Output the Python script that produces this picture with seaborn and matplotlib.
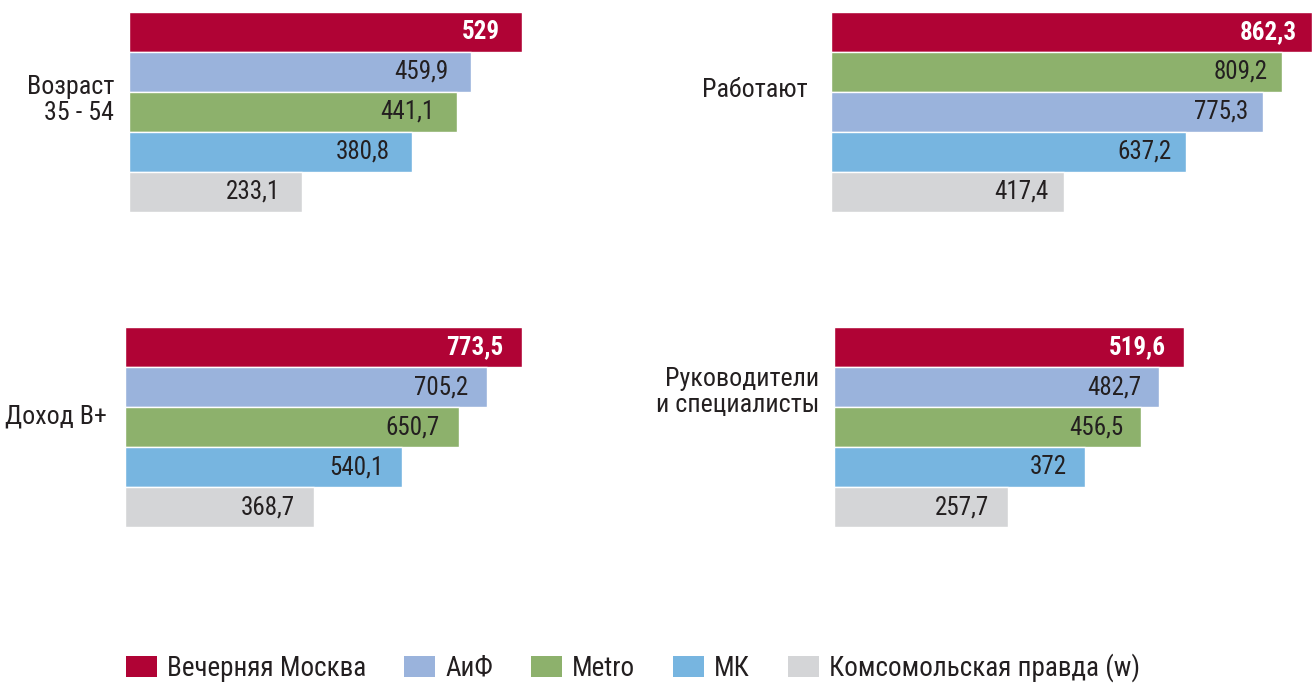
import matplotlib
matplotlib.use("Agg")
import matplotlib.pyplot as plt
from matplotlib import font_manager as fm
from matplotlib.patches import Patch
import seaborn as sns
import pandas as pd

# ---- data ----
series = ["Вечерняя Москва", "АиФ", "Metro", "МК", "Комсомольская правда (w)"]
colors = ["#B00335", "#9AB3DC", "#8DB16C", "#77B5E0", "#D4D5D7"]

panel_titles = ["Возраст\n35 - 54", "Работают", "Доход В+", "Руководители\nи специалисты"]

age_order = ["Вечерняя Москва", "АиФ", "Metro", "МК", "Комсомольская правда (w)"]
age_values = [529, 459.9, 441.1, 380.8, 233.1]

work_order = ["Вечерняя Москва", "Metro", "АиФ", "МК", "Комсомольская правда (w)"]
work_values = [862.3, 809.2, 775.3, 637.2, 417.4]

income_order = ["Вечерняя Москва", "АиФ", "Metro", "МК", "Комсомольская правда (w)"]
income_values = [773.5, 705.2, 650.7, 540.1, 368.7]

mgr_order = ["Вечерняя Москва", "АиФ", "Metro", "МК", "Комсомольская правда (w)"]
mgr_values = [519.6, 482.7, 456.5, 372, 257.7]

# ---- style ----
sns.set_theme(style="white")

# pick a narrow / condensed family if one is installed
names = {f.name for f in fm.fontManager.ttflist}
fam = None
for cand in ["Liberation Sans Narrow", "DejaVu Sans Condensed", "Roboto Condensed",
             "Open Sans Condensed", "Noto Sans Display", "Roboto", "Liberation Sans"]:
    if cand in names:
        fam = cand
        break
stretch = "normal"
if fam in ("Roboto", "Liberation Sans", None):
    cond = [f for f in fm.fontManager.ttflist
            if f.stretch in ("condensed", "semi-condensed") and f.name in
            ("DejaVu Sans", "Noto Sans", "Open Sans", "Roboto", "Liberation Sans")]
    if cond:
        fam = cond[0].name
        stretch = cond[0].stretch
if fam is None:
    fam = "DejaVu Sans"
plt.rcParams["font.family"] = [fam, "DejaVu Sans"]
plt.rcParams["font.stretch"] = stretch

W, H = 1312, 685
fig = plt.figure(figsize=(W / 100, H / 100), dpi=100)
fig.patch.set_facecolor("white")
renderer = fig.canvas.get_renderer()


def fit_size(s, target_px, max_pt, weight="normal"):
    t = fig.text(0, 0, s, fontsize=10, fontweight=weight, fontstretch=stretch)
    w = t.get_window_extent(renderer=renderer).width
    t.remove()
    return min(max_pt, 10 * target_px / w)


val_size = fit_size("459,9", 55, 18)
cat_size = fit_size("Работают", 106, 19.5)
leg_size = fit_size("Вечерняя Москва", 212, 19.5)

palette = dict(zip(series, colors))

# panel boxes in pixels: left, top, right, bottom
boxes = [(129, 12, 522, 212), (831, 12, 1312, 212),
         (125, 327, 522, 527), (834, 327, 1184, 527)]
label_pos = [(114, 100), (808, 90), (107, 417), (819, 392)]
offsets_px = [22, 15, 19, 18]

panels = [(age_order, age_values), (work_order, work_values),
          (income_order, income_values), (mgr_order, mgr_values)]

TXT = "#231F20"
for (order, vals), box, title, lp, off in zip(panels, boxes, panel_titles, label_pos, offsets_px):
    l, t, r, b = box
    ax = fig.add_axes([l / W, 1 - b / H, (r - l) / W, (b - t) / H])
    df = pd.DataFrame({"name": order, "value": vals})
    sns.barplot(data=df, x="value", y="name", hue="name", order=order,
                hue_order=order, palette=palette, orient="h", width=1.0,
                saturation=1, legend=False, ax=ax, edgecolor="white",
                linewidth=1.0)
    ax.set_xlim(0, max(vals))
    ax.set_ylim(len(order) - 0.5, -0.5)
    ax.set_axis_off()
    for i, v in enumerate(vals):
        first = i == 0
        ax.annotate(f"{v:g}".replace(".", ","), xy=(v, i),
                    xytext=(-off * 0.72, 0), textcoords="offset points",
                    ha="right", va="center", fontsize=val_size,
                    color="white" if first else TXT,
                    fontweight="bold" if first else "normal")
    fig.text(lp[0] / W, 1 - lp[1] / H, title, ha="right", va="center",
             multialignment="right", fontsize=cat_size, color=TXT, linespacing=1.1)

handles = [Patch(facecolor=c, edgecolor="none") for c in colors]
em = leg_size / 0.72
leg = fig.legend(handles, series, loc="center left",
                 bbox_to_anchor=(126 / W, 1 - 668 / H), ncol=5,
                 frameon=False, fontsize=leg_size, handlelength=31 / em,
                 handleheight=22 / em, handletextpad=10 / em,
                 columnspacing=38 / em,
                 borderpad=0, borderaxespad=0)
for txt in leg.get_texts():
    txt.set_color(TXT)

fig.savefig("out.png", dpi=100, facecolor="white")
